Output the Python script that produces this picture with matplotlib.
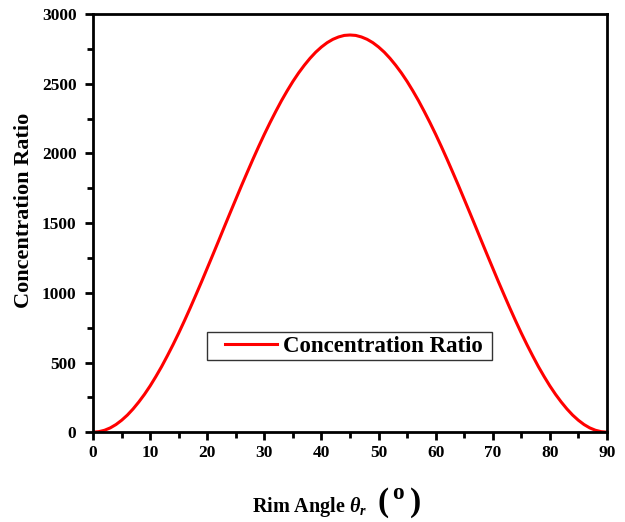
import matplotlib.pyplot as plt
from matplotlib.legend_handler import HandlerLine2D

# rim angle (deg) and concentration ratio
rim_angle = list(range(0, 91))
rise = [0, 4, 14, 31, 55, 86, 123, 167, 217, 272, 333, 400, 471, 548, 628,
        712, 800, 891, 985, 1080, 1178, 1276, 1375, 1475, 1574, 1672, 1770,
        1865, 1959, 2050, 2138, 2222, 2302, 2379, 2450, 2517, 2578, 2633,
        2683, 2727, 2764, 2795, 2819, 2836, 2847, 2850]
conc_ratio = rise + rise[-2::-1]  # curve is symmetric about 45 deg

plt.rcParams["font.family"] = ["Liberation Serif", "DejaVu Serif"]
plt.rcParams["font.weight"] = "bold"
plt.rcParams["mathtext.fontset"] = "custom"
plt.rcParams["mathtext.rm"] = "Liberation Serif:bold"
plt.rcParams["mathtext.it"] = "Liberation Serif:bold:italic"
plt.rcParams["mathtext.bf"] = "Liberation Serif:bold"

fig = plt.figure(figsize=(6.25, 5.22), dpi=100)
ax = fig.add_axes([0.149, 0.172, 0.822, 0.801])

line, = ax.plot(rim_angle, conc_ratio, color="red", lw=2.2,
                label="Concentration Ratio ")

ax.set_xlim(0, 90)
ax.set_ylim(0, 3000)
ax.set_xticks(range(0, 91, 10))
ax.set_xticks(range(5, 90, 10), minor=True)
ax.set_yticks(range(0, 3001, 500))
ax.set_yticks(range(250, 3000, 500), minor=True)
ax.tick_params(which="major", direction="out", length=6, width=2, labelsize=12.5)
ax.tick_params(axis="y", which="major", pad=6)
ax.tick_params(which="minor", direction="out", length=4, width=2)
for s in ax.spines.values():
    s.set_linewidth(2)

ax.set_ylabel("Concentration Ratio", fontsize=16, fontweight="bold")
ax.yaxis.set_label_coords(-0.115, 0.531)

# x label: text plus large parentheses
fig.text(0.403, 0.029, r"Rim Angle $\theta_r$", fontsize=14.5, fontweight="bold",
         ha="left", va="center")
fig.text(0.603, 0.036, r"$(\,^{\rm o}\,)$", fontsize=24, ha="left", va="center")

leg = ax.legend(loc="lower left", bbox_to_anchor=(0.222, 0.172), fontsize=16.5,
                frameon=True, fancybox=False, handlelength=2.91,
                borderpad=0.15, handletextpad=0.26, borderaxespad=0,
                handler_map={line: HandlerLine2D(xpad=0.64)})
leg.get_frame().set_edgecolor("black")
leg.get_frame().set_linewidth(1)

fig.savefig("out.png", dpi=100)
